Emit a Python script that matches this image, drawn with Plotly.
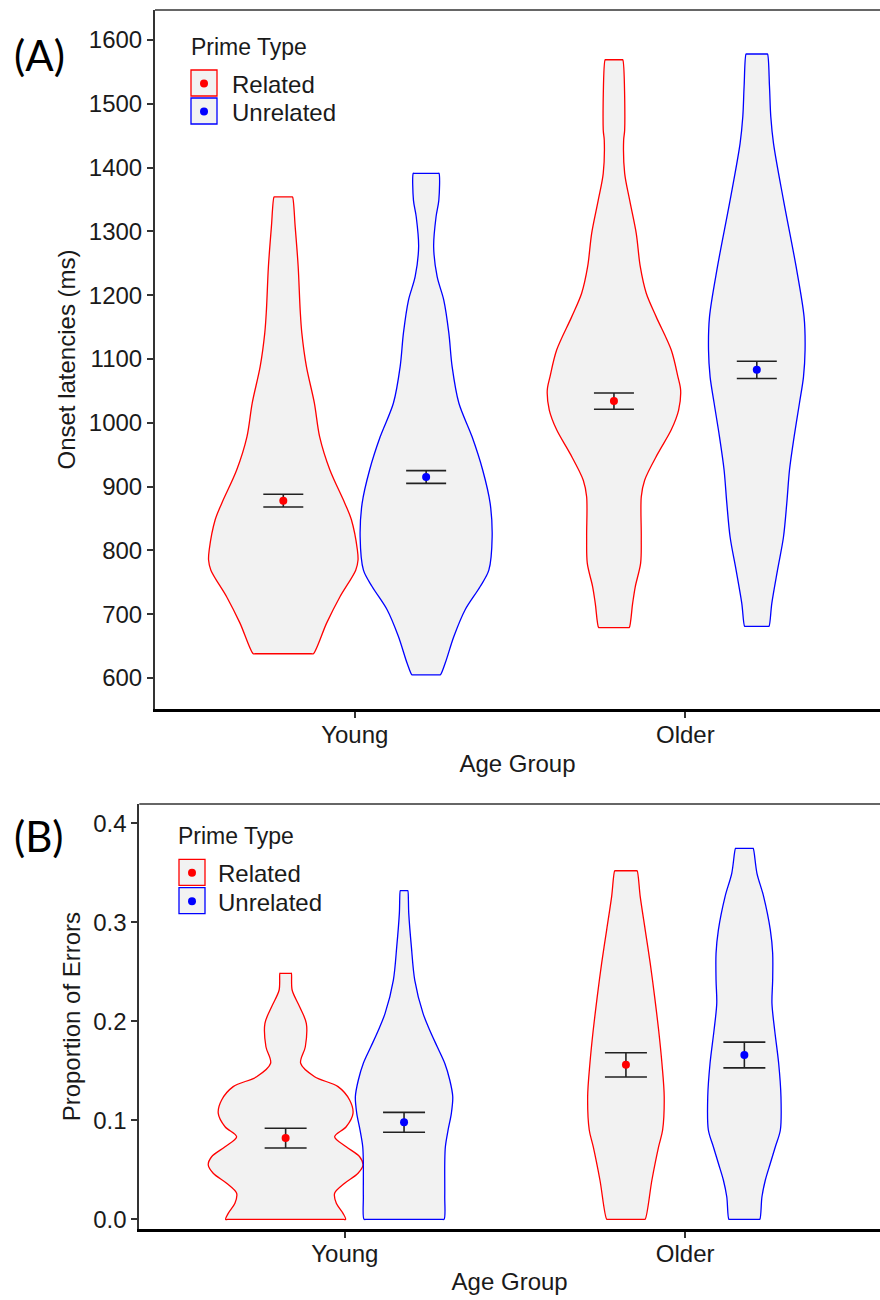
import plotly.graph_objects as go

# ---------------- data ----------------
groups = ["Young", "Older"]
prime_types = ["Related", "Unrelated"]
group_pos = [1, 2]

# Panel A: onset latencies (ms) — means and standard errors [Related, Unrelated]
lat_mean_young = [878, 915]
lat_mean_older = [1034, 1083]
lat_se_young = [10, 10]
lat_se_older = [12.7, 13.5]

# Panel B: proportion of errors — means and standard errors [Related, Unrelated]
err_mean_young = [0.082, 0.098]
err_mean_older = [0.156, 0.166]
err_se_young = [0.010, 0.010]
err_se_older = [0.0123, 0.013]

# Violin density profiles: y values and half-widths (category units)
lat_young_rel_y = [1354, 1307, 1245, 1177, 1141, 1088, 1031, 978, 926, 874, 848, 801, 785, 769, 727, 686, 638]
lat_young_rel_w = [0.028, 0.036, 0.045, 0.051, 0.056, 0.070, 0.094, 0.110, 0.141, 0.186, 0.206, 0.224, 0.226, 0.219, 0.171, 0.131, 0.091]
lat_young_unr_y = [1391, 1349, 1323, 1276, 1229, 1192, 1141, 1088, 1031, 978, 926, 874, 821, 769, 743, 707, 665, 623, 605]
lat_young_unr_w = [0.0387, 0.0384, 0.030, 0.0227, 0.0333, 0.0535, 0.0686, 0.0786, 0.0989, 0.139, 0.171, 0.1935, 0.1996, 0.1896, 0.163, 0.118, 0.0838, 0.0575, 0.0432]
lat_older_rel_y = [1569, 1459, 1443, 1391, 1349, 1297, 1245, 1203, 1166, 1114, 1072, 1051, 1020, 989, 952, 910, 884, 821, 780, 743, 717, 679]
lat_older_rel_w = [0.0266, 0.0324, 0.0293, 0.0324, 0.0475, 0.0674, 0.0795, 0.0977, 0.1279, 0.1733, 0.1935, 0.2017, 0.1956, 0.1733, 0.1330, 0.0928, 0.0826, 0.0826, 0.0807, 0.0644, 0.0565, 0.0463]
lat_older_unr_y = [1578, 1527, 1480, 1438, 1349, 1245, 1166, 1114, 1072, 1031, 978, 926, 874, 821, 769, 717, 681]
lat_older_unr_w = [0.0324, 0.0384, 0.0423, 0.0505, 0.0807, 0.1188, 0.143, 0.146, 0.1412, 0.1291, 0.1128, 0.0989, 0.0907, 0.0807, 0.0626, 0.0454, 0.0369]

err_young_rel_y = [0.2485, 0.2316, 0.2147, 0.198, 0.1743, 0.1576, 0.144, 0.134, 0.1205, 0.107, 0.0935, 0.0834, 0.0733, 0.0632, 0.0548, 0.0465, 0.0364, 0.0263, 0.0162, 0.006, 0.0]
err_young_rel_w = [0.0168, 0.0191, 0.0411, 0.0608, 0.0579, 0.0441, 0.0852, 0.154, 0.188, 0.198, 0.178, 0.144, 0.178, 0.2175, 0.2274, 0.2128, 0.1734, 0.144, 0.149, 0.1687, 0.1763]
err_young_unr_y = [0.332, 0.309, 0.2754, 0.2417, 0.208, 0.191, 0.174, 0.1576, 0.1407, 0.1238, 0.107, 0.09, 0.0733, 0.0566, 0.0229, 0.0]
err_young_unr_w = [0.0112, 0.0138, 0.0215, 0.0314, 0.0558, 0.0755, 0.0979, 0.1196, 0.1343, 0.1431, 0.139, 0.1293, 0.1214, 0.1196, 0.1196, 0.1175]
err_older_rel_y = [0.3521, 0.326, 0.2922, 0.2586, 0.2249, 0.1912, 0.1576, 0.1238, 0.0902, 0.0733, 0.0397, 0.0]
err_older_rel_w = [0.0329, 0.042, 0.0567, 0.0714, 0.0843, 0.0961, 0.1058, 0.1125, 0.1078, 0.0961, 0.0764, 0.0564]
err_older_unr_y = [0.3747, 0.3495, 0.326, 0.2922, 0.2687, 0.2417, 0.2182, 0.1912, 0.1576, 0.1238, 0.0902, 0.0733, 0.0566, 0.0397, 0.0228, 0.0]
err_older_unr_w = [0.0259, 0.037, 0.0567, 0.0764, 0.0832, 0.0832, 0.0811, 0.089, 0.1008, 0.1076, 0.1058, 0.0911, 0.0764, 0.0617, 0.0517, 0.0455]

lat_ticks = [600, 700, 800, 900, 1000, 1100, 1200, 1300, 1400, 1500, 1600]
err_ticks = [0.0, 0.1, 0.2, 0.3, 0.4]
err_ticktext = ["0.0", "0.1", "0.2", "0.3", "0.4"]

# ---------------- styling ----------------
W, H = 880, 1300
FONT = "Liberation Sans, Arial, sans-serif"
COLORS = ["#FF0000", "#0000FF"]
FILL = "#F2F2F2"
TXT = "#1a1a1a"


def py(ypx):
    return 1 - ypx / H


def px(xpx):
    return xpx / W


fig = go.Figure()


def add_violin(center, ys, ws, color, xa, ya):
    k = 0.93  # keeps the flat ends of the violin straight under spline smoothing
    right = [(center + w, y) for w, y in zip(ws, ys)]
    bottom = [(center + k * ws[-1], ys[-1]), (center - k * ws[-1], ys[-1])]
    left = [(center - w, y) for w, y in zip(reversed(ws), reversed(ys))]
    top = [(center - k * ws[0], ys[0]), (center + k * ws[0], ys[0]), (center + ws[0], ys[0])]
    pts = right + bottom + left + top
    fig.add_trace(go.Scatter(x=[p[0] for p in pts], y=[p[1] for p in pts], mode="lines",
                             fill="toself", fillcolor=FILL,
                             line=dict(color=color, width=1.3, shape="spline", smoothing=0.9),
                             xaxis=xa, yaxis=ya, showlegend=False, hoverinfo="skip"))


def add_mean(center, m, se, color, xa, ya, cap):
    fig.add_trace(go.Scatter(x=[center], y=[m], mode="markers",
                             marker=dict(color=color, size=8),
                             error_y=dict(type="data", array=[se], color="#222222",
                                          thickness=1.6, width=cap),
                             xaxis=xa, yaxis=ya, showlegend=False))


# Panel A
dodge_a = 0.216
lat_profiles = [[(lat_young_rel_y, lat_young_rel_w), (lat_young_unr_y, lat_young_unr_w)],
                [(lat_older_rel_y, lat_older_rel_w), (lat_older_unr_y, lat_older_unr_w)]]
lat_means = [lat_mean_young, lat_mean_older]
lat_ses = [lat_se_young, lat_se_older]
for gi, g in enumerate(group_pos):
    for pi in range(2):
        c = g + (-dodge_a if pi == 0 else dodge_a)
        ys, ws = lat_profiles[gi][pi]
        add_violin(c, ys, ws, COLORS[pi], "x", "y")
for gi, g in enumerate(group_pos):
    for pi in range(2):
        c = g + (-dodge_a if pi == 0 else dodge_a)
        add_mean(c, lat_means[gi][pi], lat_ses[gi][pi], COLORS[pi], "x", "y", 20)

# Panel B
dodge_b = 0.174
err_profiles = [[(err_young_rel_y, err_young_rel_w), (err_young_unr_y, err_young_unr_w)],
                [(err_older_rel_y, err_older_rel_w), (err_older_unr_y, err_older_unr_w)]]
err_means = [err_mean_young, err_mean_older]
err_ses = [err_se_young, err_se_older]
for gi, g in enumerate(group_pos):
    for pi in range(2):
        c = g + (-dodge_b if pi == 0 else dodge_b)
        ys, ws = err_profiles[gi][pi]
        add_violin(c, ys, ws, COLORS[pi], "x2", "y2")
for gi, g in enumerate(group_pos):
    for pi in range(2):
        c = g + (-dodge_b if pi == 0 else dodge_b)
        add_mean(c, err_means[gi][pi], err_ses[gi][pi], COLORS[pi], "x2", "y2", 21)

axis_common = dict(showgrid=False, zeroline=False, showline=True, ticks="outside",
                   ticklen=6, tickwidth=1.5, tickcolor="#333333", automargin=False,
                   tickfont=dict(family=FONT, size=24, color=TXT))

fig.update_layout(
    width=W, height=H,
    margin=dict(l=0, r=0, t=0, b=0),
    paper_bgcolor="white", plot_bgcolor="white",
    showlegend=False,
    font=dict(family=FONT, color=TXT),
    xaxis=dict(domain=[px(155), 1], range=[0.396, 2.5886], anchor="y",
               tickvals=group_pos, ticktext=groups, linecolor="black", linewidth=2.5,
               ticklabelstandoff=-4,
               title=dict(text="Age Group", font=dict(family=FONT, size=24, color=TXT), standoff=9),
               **axis_common),
    yaxis=dict(domain=[py(709), py(10)], range=[551.4, 1647], anchor="x",
               tickvals=lat_ticks, linecolor="#333333", linewidth=2,
               title=dict(text="Onset latencies (ms)", font=dict(family=FONT, size=24, color=TXT), standoff=6),
               **axis_common),
    xaxis2=dict(domain=[px(139.3), 1], range=[0.396, 2.5726], anchor="y2",
                tickvals=group_pos, ticktext=groups, linecolor="black", linewidth=2.5,
                ticklabelstandoff=-5,
                title=dict(text="Age Group", font=dict(family=FONT, size=24, color=TXT), standoff=8),
                **axis_common),
    yaxis2=dict(domain=[py(1229.3), py(804)], range=[-0.0101, 0.4195], anchor="x2",
                tickvals=err_ticks, ticktext=err_ticktext, linecolor="#333333", linewidth=2,
                title=dict(text="Proportion of Errors", font=dict(family=FONT, size=24, color=TXT), standoff=6),
                **axis_common),
)

shapes = []
# top borders of both panels
shapes.append(dict(type="line", xref="x domain", yref="y domain", x0=0, x1=1, y0=1, y1=1,
                   line=dict(color="#666666", width=2)))
shapes.append(dict(type="line", xref="x2 domain", yref="y2 domain", x0=0, x1=1, y0=1, y1=1,
                   line=dict(color="#666666", width=2)))

annotations = []
# panel letters
annotations.append(dict(text="(A)", x=px(39.7), y=py(55), xref="paper", yref="paper",
                        showarrow=False, xanchor="center", yanchor="middle",
                        font=dict(family="Lato, sans-serif", size=42, color="black")))
annotations.append(dict(text="(B)", x=px(39), y=py(835.5), xref="paper", yref="paper",
                        showarrow=False, xanchor="center", yanchor="middle",
                        font=dict(family="Lato, sans-serif", size=42, color="black")))

# legends (manual, ggplot-style keys)
legend_specs = [
    # title_x, title_y, key_x0, key_y0s, text_x
    (190.7, 47, 191, [70, 98], 232),
    (178.3, 836, 179, [859.3, 887.7], 218.3),
]
for (tx, ty, kx, kys, textx) in legend_specs:
    annotations.append(dict(text="Prime Type", x=px(tx - 2), y=py(ty), xref="paper", yref="paper",
                            showarrow=False, xanchor="left", yanchor="middle",
                            font=dict(family=FONT, size=23, color=TXT)))
    for i, name in enumerate(prime_types):
        ky = kys[i]
        shapes.append(dict(type="rect", xref="paper", yref="paper",
                           x0=px(kx), x1=px(kx + 26), y0=py(ky + 26), y1=py(ky),
                           line=dict(color=COLORS[i], width=1.3), fillcolor=FILL))
        cx, cy = kx + 13, ky + 13.5
        shapes.append(dict(type="circle", xref="paper", yref="paper",
                           x0=px(cx - 4), x1=px(cx + 4), y0=py(cy + 4), y1=py(cy - 4),
                           line=dict(color=COLORS[i], width=0), fillcolor=COLORS[i]))
        annotations.append(dict(text=name, x=px(textx - 2), y=py(ky + 14.5), xref="paper", yref="paper",
                                showarrow=False, xanchor="left", yanchor="middle",
                                font=dict(family=FONT, size=24, color=TXT)))

fig.update_layout(shapes=shapes, annotations=annotations)

fig.write_html("out.html", config={"displayModeBar": False},
               post_script="document.body.style.margin='0';")
